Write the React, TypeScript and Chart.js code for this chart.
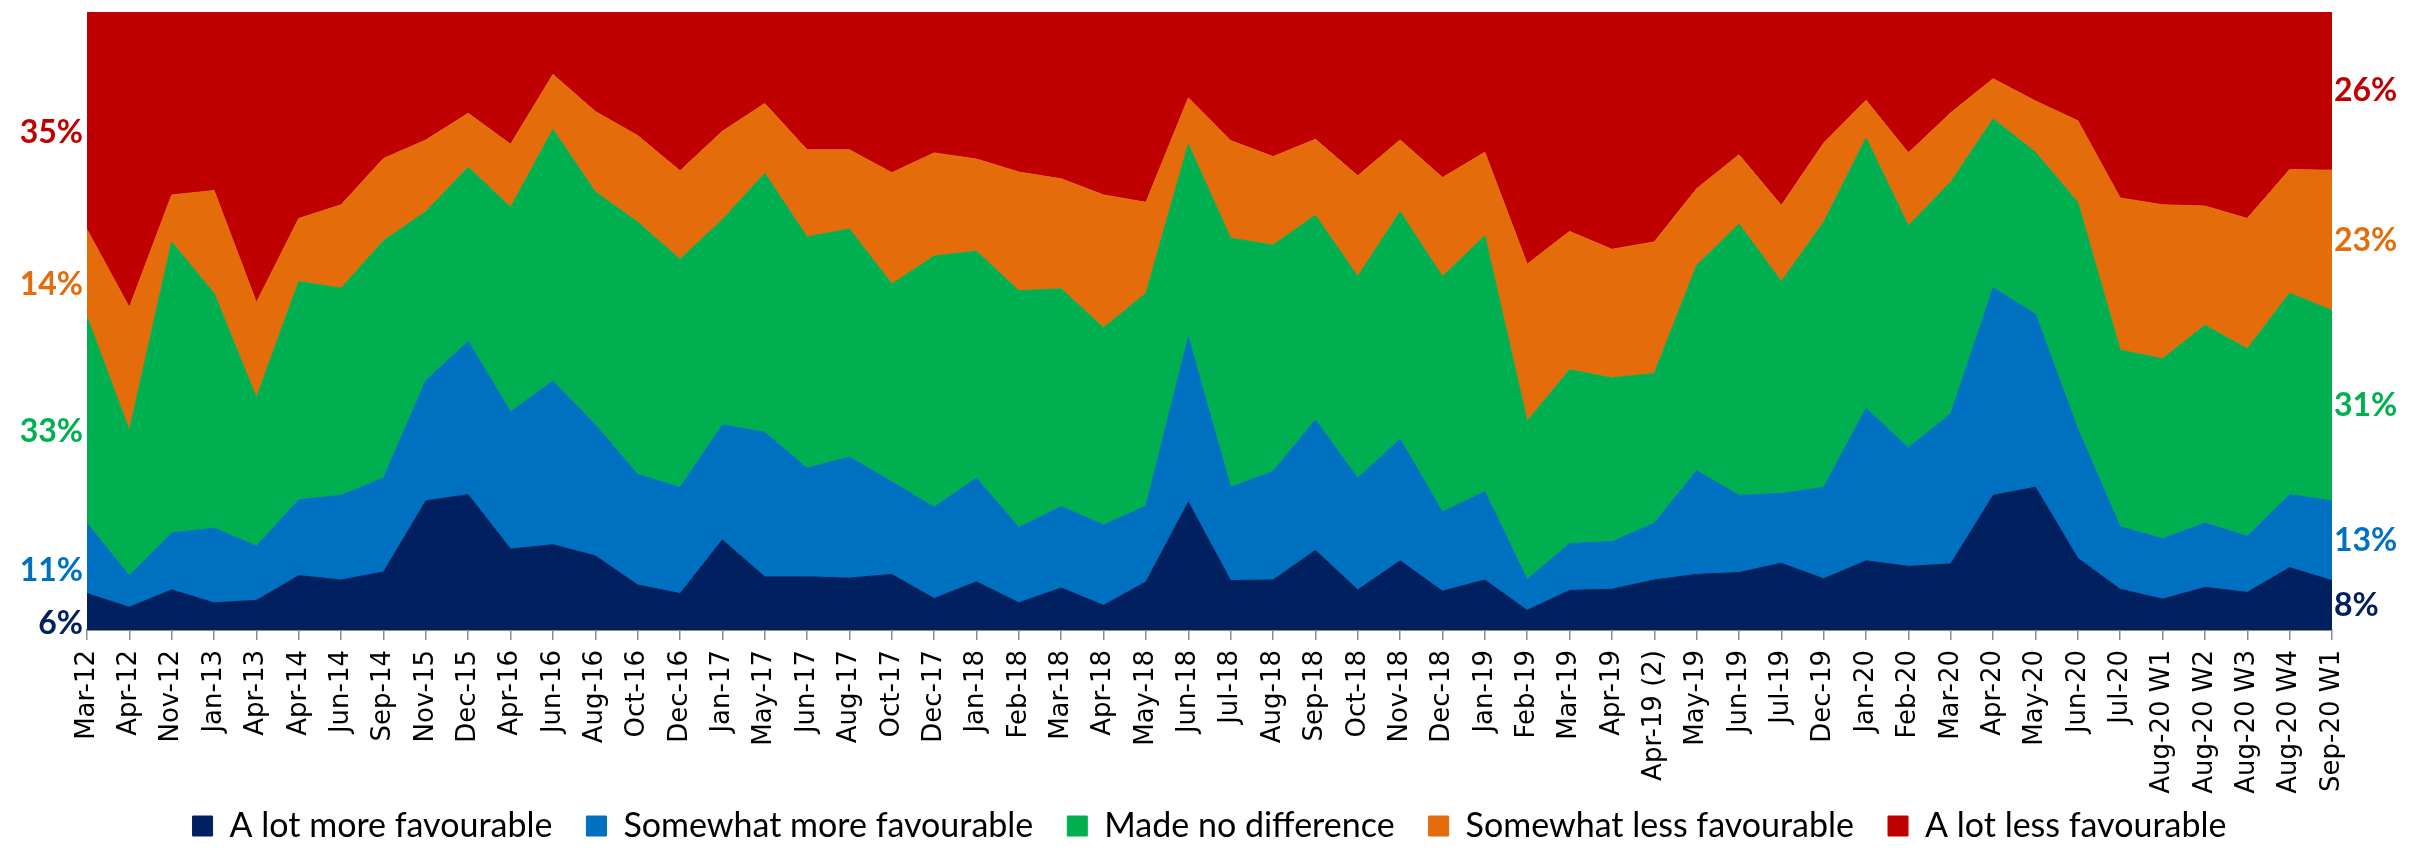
import React, { useEffect, useRef } from 'react';
import { Chart, registerables } from 'chart.js';

Chart.register(...registerables);

const categories = [
  'Mar-12', 'Apr-12', 'Nov-12', 'Jan-13', 'Apr-13', 'Apr-14', 'Jun-14', 'Sep-14', 'Nov-15', 'Dec-15',
  'Apr-16', 'Jun-16', 'Aug-16', 'Oct-16', 'Dec-16', 'Jan-17', 'May-17', 'Jun-17', 'Aug-17', 'Oct-17',
  'Dec-17', 'Jan-18', 'Feb-18', 'Mar-18', 'Apr-18', 'May-18', 'Jun-18', 'Jul-18', 'Aug-18', 'Sep-18',
  'Oct-18', 'Nov-18', 'Dec-18', 'Jan-19', 'Feb-19', 'Mar-19', 'Apr-19', 'Apr-19 (2)', 'May-19', 'Jun-19',
  'Jul-19', 'Dec-19', 'Jan-20', 'Feb-20', 'Mar-20', 'Apr-20', 'May-20', 'Jun-20', 'Jul-20', 'Aug-20 W1',
  'Aug-20 W2', 'Aug-20 W3', 'Aug-20 W4', 'Sep-20 W1',
];

const aLotMore = [
  5.9, 3.7, 6.5, 4.4, 4.8, 8.8, 8.1, 9.4, 20.9, 21.9,
  13.1, 13.8, 12.0, 7.3, 5.9, 14.6, 8.6, 8.6, 8.4, 9.0,
  5.1, 7.8, 4.4, 6.8, 4.0, 7.8, 20.7, 8.0, 8.1, 12.9,
  6.5, 11.2, 6.3, 8.1, 3.2, 6.4, 6.6, 8.1, 9.0, 9.3,
  10.8, 8.3, 11.2, 10.3, 10.7, 21.8, 23.1, 11.6, 6.6, 5.0,
  6.9, 6.1, 10.1, 8.0,
];

const somewhatMore = [
  11.4, 5.1, 9.2, 12.1, 8.8, 12.3, 13.7, 15.2, 19.5, 24.8,
  22.2, 26.5, 21.2, 17.9, 17.2, 18.6, 23.4, 17.6, 19.6, 15.0,
  14.8, 16.8, 12.2, 13.2, 13.0, 12.3, 26.7, 15.1, 17.6, 21.1,
  18.1, 19.7, 12.8, 14.3, 5.0, 7.6, 7.7, 9.2, 16.8, 12.5,
  11.3, 14.8, 24.7, 19.2, 24.3, 33.6, 28.0, 20.9, 10.1, 9.8,
  10.4, 9.1, 11.8, 12.9,
];

const noDifference = [
  33.4, 23.5, 47.1, 38.0, 24.0, 35.3, 33.5, 38.4, 27.3, 28.2,
  33.1, 40.7, 37.7, 40.8, 36.9, 33.2, 41.9, 37.4, 36.9, 32.0,
  40.6, 36.7, 38.3, 35.2, 31.9, 34.4, 31.2, 40.3, 36.6, 33.1,
  32.6, 36.8, 38.1, 41.4, 25.6, 28.1, 26.5, 24.2, 33.2, 43.9,
  34.3, 42.9, 43.7, 35.9, 37.5, 27.3, 26.2, 36.7, 28.6, 29.1,
  32.0, 30.3, 32.6, 30.8,
];

const somewhatLess = [
  14.1, 19.9, 7.6, 16.6, 15.4, 10.2, 13.5, 13.3, 11.6, 8.7,
  10.2, 8.9, 13.0, 14.0, 14.3, 14.3, 11.3, 14.1, 12.8, 18.0,
  16.7, 14.9, 19.2, 17.8, 21.5, 14.7, 7.5, 15.8, 14.3, 12.3,
  16.3, 11.6, 16.0, 13.5, 25.4, 22.4, 20.8, 21.3, 12.4, 11.2,
  12.3, 12.8, 6.1, 11.8, 11.2, 6.5, 8.3, 13.2, 24.6, 24.9,
  19.3, 21.1, 20.0, 22.7,
];

const aLotLess = [
  35.2, 47.8, 29.6, 28.9, 47.0, 33.4, 31.2, 23.7, 20.7, 16.4,
  21.4, 10.1, 16.1, 20.0, 25.7, 19.3, 14.8, 22.3, 22.3, 26.0,
  22.8, 23.8, 25.9, 27.0, 29.6, 30.8, 13.9, 20.8, 23.4, 20.6,
  26.5, 20.7, 26.8, 22.7, 40.8, 35.5, 38.4, 37.2, 28.6, 23.1,
  31.3, 21.2, 14.3, 22.8, 16.3, 10.8, 14.4, 17.6, 30.1, 31.2,
  31.4, 33.4, 25.5, 25.6,
];

const seriesNames = [
  'A lot more favourable',
  'Somewhat more favourable',
  'Made no difference',
  'Somewhat less favourable',
  'A lot less favourable',
];

const seriesValues = [aLotMore, somewhatMore, noDifference, somewhatLess, aLotLess];

const seriesColors = ['#002060', '#0070C0', '#00B050', '#E46C0A', '#C00000'];

// end-of-series labels (first point on the left, last point on the right)
const leftLabels = ['6%', '11%', '33%', '14%', '35%'];
const rightLabels = ['8%', '13%', '31%', '23%', '26%'];

const sideLabelsPlugin = {
  id: 'sideLabels',
  afterLayout(chart: any) {
    // let the rotated x labels extend below the axis box without being clipped
    const x = chart.scales.x;
    if (x) x.bottom = chart.height;
  },
  afterDatasetsDraw(chart: any) {
    const { ctx, chartArea } = chart;
    const y = chart.scales.y;
    const n = categories.length;
    ctx.save();
    ctx.font = 'bold 32px Lato';
    ctx.textBaseline = 'middle';
    [0, n - 1].forEach((idx, side) => {
      let cum = 0;
      chart.data.datasets.forEach((ds: any, i: number) => {
        const v = ds.data[idx] as number;
        const mid = cum + v / 2;
        cum += v;
        const py = y.getPixelForValue(mid);
        ctx.fillStyle = seriesColors[i];
        if (side === 0) {
          ctx.textAlign = 'right';
          ctx.fillText(leftLabels[i], chartArea.left - 4, py + 12);
        } else {
          ctx.textAlign = 'left';
          ctx.fillText(rightLabels[i], chartArea.right + 2, py);
        }
      });
    });
    ctx.restore();
  },
};

export default function App() {
  const canvasRef = useRef<HTMLCanvasElement | null>(null);

  useEffect(() => {
    if (!canvasRef.current) return;
    const chart = new Chart(canvasRef.current, {
      type: 'line',
      data: {
        labels: categories,
        datasets: seriesNames.map((name, i) => ({
          label: name,
          data: seriesValues[i],
          backgroundColor: seriesColors[i],
          borderColor: seriesColors[i],
          borderWidth: 1,
          pointRadius: 0,
          pointHoverRadius: 0,
          tension: 0,
          fill: i === 0 ? 'origin' : '-1',
        })),
      },
      options: {
        animation: false,
        responsive: true,
        maintainAspectRatio: false,
        layout: { padding: { left: 87, right: 88, top: 12, bottom: -2 } },
        plugins: {
          tooltip: { enabled: false },
          legend: {
            display: true,
            position: 'bottom',
            labels: {
              boxWidth: 20,
              boxHeight: 20,
              padding: 34,
              color: '#000000',
              font: { family: 'Lato', size: 34 },
            },
          },
        },
        scales: {
          x: {
            offset: false,
            afterFit: (scale: any) => {
              scale.height = 145;
            },
            grid: {
              display: true,
              drawOnChartArea: false,
              drawTicks: true,
              tickLength: 10,
              color: '#8c8c8c',
              lineWidth: 1.5,
            },
            border: { display: true, color: '#8c8c8c', width: 2 },
            ticks: {
              autoSkip: false,
              minRotation: 90,
              maxRotation: 90,
              padding: 10,
              color: '#000000',
              font: { family: 'DejaVu Sans', size: 26 },
            },
          },
          y: {
            display: false,
            stacked: true,
            min: 0,
            max: 100,
          },
        },
      },
      plugins: [sideLabelsPlugin],
    });
    return () => chart.destroy();
  }, []);

  return (
    <div style={{ position: 'fixed', left: 0, top: 0, width: '2420px', height: '851px', background: '#ffffff' }}>
      <canvas ref={canvasRef} />
    </div>
  );
}
